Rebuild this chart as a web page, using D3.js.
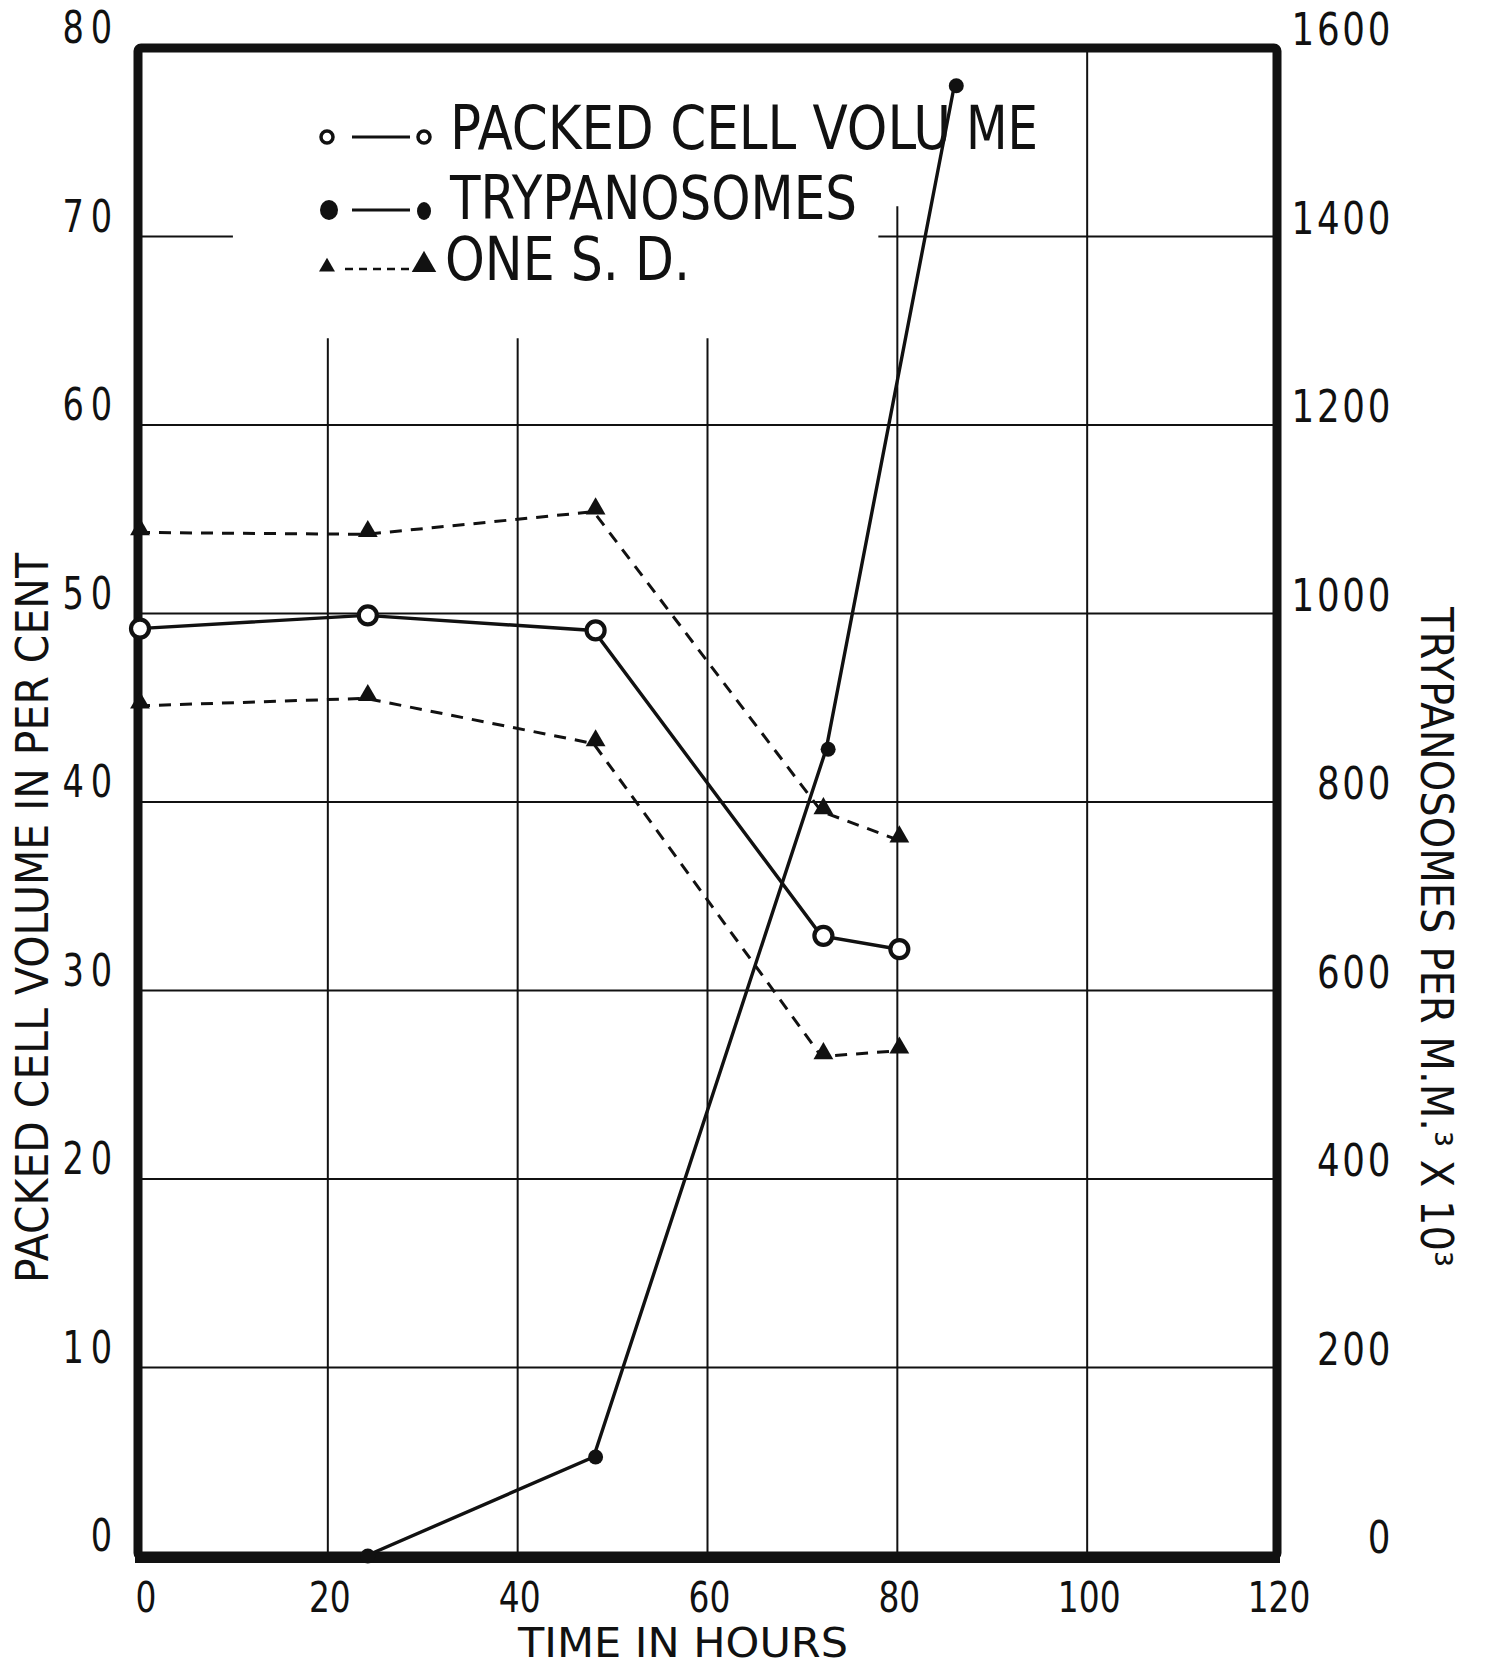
<!DOCTYPE html>
<html>
<head>
<meta charset="utf-8">
<script src="https://cdn.jsdelivr.net/npm/d3@7"></script>
<style>
  body { margin: 0; background: #fff; }
  text { font-family: "DejaVu Sans Condensed", "DejaVu Sans", sans-serif; fill: #111; }
</style>
</head>
<body>
<div id="chart"></div>
<script>
// ---------------- data ----------------
const hours = [0, 24, 48, 72, 80];
const packedCellVolume = [49.2, 49.9, 49.1, 32.9, 32.2];
const sdUpper = [54.3, 54.2, 55.4, 39.5, 38.0];
const sdLower = [45.1, 45.5, 43.1, 26.5, 26.8];

const trypHours = [24, 48, 72.5, 86];
const trypanosomes = [0, 105, 856, 1560];

const xTicks = [0, 20, 40, 60, 80, 100, 120];
const leftTicks = [0, 10, 20, 30, 40, 50, 60, 70, 80];
const rightTicks = [0, 200, 400, 600, 800, 1000, 1200, 1400, 1600];

// grid as drawn on the sheet (some lines are cut short by the legend)
const hGridFull = [10, 20, 30, 40, 50, 60];
const hGrid70 = [[0, 10], [78, 120]];
const vGridValues = [20, 40, 60, 80, 100];
const vGridTop = [64.6, 64.6, 64.6, 71.6, 80];

// ---------------- svg ----------------
const W = 1486, H = 1669;
const svg = d3.select("#chart").append("svg")
  .attr("width", W).attr("height", H)
  .style("background", "#fff");

const x = d3.scaleLinear().domain([0, 120]).range([138, 1277]);
const yL = d3.scaleLinear().domain([0, 80]).range([1556, 48]);
const yR = d3.scaleLinear().domain([0, 1600]).range([1556, 48]);

const ink = "#111";

// grid
const grid = svg.append("g").attr("stroke", ink).attr("stroke-width", 2);
grid.selectAll(".hg").data(hGridFull).join("line")
  .attr("x1", x(0)).attr("x2", x(120))
  .attr("y1", d => yL(d)).attr("y2", d => yL(d));
grid.selectAll(".h70").data(hGrid70).join("line")
  .attr("x1", d => x(d[0])).attr("x2", d => x(d[1]))
  .attr("y1", yL(70)).attr("y2", yL(70));
grid.selectAll(".vg").data(vGridValues).join("line")
  .attr("x1", d => x(d)).attr("x2", d => x(d))
  .attr("y1", (d, i) => yL(vGridTop[i])).attr("y2", yL(0));

// frame
svg.append("rect")
  .attr("x", x(0)).attr("y", yL(80))
  .attr("width", x(120) - x(0)).attr("height", yL(0) - yL(80))
  .attr("rx", 3)
  .attr("fill", "none").attr("stroke", ink).attr("stroke-width", 9);
svg.append("line")
  .attr("x1", x(0) - 3).attr("x2", x(120) + 3).attr("y1", yL(0) + 3).attr("y2", yL(0) + 3)
  .attr("stroke", ink).attr("stroke-width", 8);

// tick labels
svg.append("g").selectAll("text").data(leftTicks).join("text")
  .attr("transform", d => `translate(${112 + 7},${yL(d) - 5}) scale(0.85,1)`)
  .attr("text-anchor", "end").attr("font-size", 44)
  .attr("letter-spacing", 8)
  .text(d => d);

svg.append("g").selectAll("text").data(rightTicks).join("text")
  .attr("transform", d => `translate(${1390 + 3},${yR(d) - 3}) scale(0.9,1)`)
  .attr("text-anchor", "end").attr("font-size", 44)
  .attr("letter-spacing", 3)
  .text(d => d);

svg.append("g").selectAll("text").data(xTicks).join("text")
  .attr("transform", d => `translate(${x(d) + (d === 0 ? 8 : 2)},1612) scale(0.85,1)`)
  .attr("text-anchor", "middle").attr("font-size", 43)
  .text(d => d);

// axis titles
svg.append("text")
  .attr("transform", "translate(48,918) rotate(-90)")
  .attr("text-anchor", "middle").attr("font-size", 44)
  .attr("textLength", 730).attr("lengthAdjust", "spacingAndGlyphs")
  .text("PACKED CELL VOLUME IN PER CENT");

svg.append("text")
  .attr("transform", "translate(1421,937) rotate(90)")
  .attr("text-anchor", "middle").attr("font-size", 44)
  .attr("textLength", 660).attr("lengthAdjust", "spacingAndGlyphs")
  .text("TRYPANOSOMES   PER M.M.\u00b3 X 10\u00b3");

svg.append("text")
  .attr("x", 683).attr("y", 1657)
  .attr("text-anchor", "middle").attr("font-size", 40)
  .attr("textLength", 330).attr("lengthAdjust", "spacingAndGlyphs")
  .text("TIME  IN HOURS");

// ---------------- series ----------------
const pcv = hours.map((h, i) => [h, packedCellVolume[i]]);
const up = hours.map((h, i) => [h, sdUpper[i]]);
const lo = hours.map((h, i) => [h, sdLower[i]]);
const tryp = trypHours.map((h, i) => [h, trypanosomes[i]]);

const lineL = d3.line().x(d => x(d[0])).y(d => yL(d[1]));
const lineR = d3.line().x(d => x(d[0])).y(d => yR(d[1]));

[up, lo].forEach(s => {
  svg.append("path").attr("d", lineL(s))
    .attr("fill", "none").attr("stroke", ink)
    .attr("stroke-width", 3).attr("stroke-dasharray", "12 9");
});
svg.append("path").attr("d", lineL(pcv))
  .attr("fill", "none").attr("stroke", ink).attr("stroke-width", 3.4);
svg.append("path").attr("d", lineR(tryp))
  .attr("fill", "none").attr("stroke", ink).attr("stroke-width", 3.4);

const tri = d3.symbol().type(d3.symbolTriangle).size(170);
svg.append("g").selectAll("path").data(up.concat(lo)).join("path")
  .attr("d", tri)
  .attr("transform", d => `translate(${x(d[0]) + 2},${yL(d[1]) - 3})`)
  .attr("fill", ink);

svg.append("g").selectAll("circle").data(pcv).join("circle")
  .attr("cx", d => x(d[0]) + 2).attr("cy", d => yL(d[1]))
  .attr("r", 9).attr("fill", "#fff").attr("stroke", ink).attr("stroke-width", 4.2);

svg.append("g").selectAll("circle").data(tryp).join("circle")
  .attr("cx", d => x(d[0]) + 2).attr("cy", d => yR(d[1]))
  .attr("r", 7.5).attr("fill", ink);

// ---------------- legend ----------------
const lg = svg.append("g");
const rows = [
  {label: "PACKED CELL VOLU", tail: "ME", y: 137, base: 149, w: 501, kind: "open"},
  {label: "TRYPANOSOMES", y: 210, base: 219, w: 407, kind: "filled"},
  {label: "ONE S. D.", y: 269, base: 280, w: 245, kind: "tri"}
];
rows.forEach(r => {
  lg.append("line")
    .attr("x1", r.kind === "tri" ? 345 : 352).attr("x2", 410)
    .attr("y1", r.y).attr("y2", r.y)
    .attr("stroke", ink).attr("stroke-width", r.kind === "tri" ? 2.5 : 3)
    .attr("stroke-dasharray", r.kind === "tri" ? "8 6" : null);
  if (r.kind === "open") {
    [327, 424].forEach(cx => lg.append("circle").attr("cx", cx).attr("cy", r.y)
      .attr("r", 6).attr("fill", "#fff").attr("stroke", ink).attr("stroke-width", 3.5));
  } else if (r.kind === "filled") {
    lg.append("ellipse").attr("cx", 329).attr("cy", r.y).attr("rx", 9).attr("ry", 10).attr("fill", ink);
    lg.append("ellipse").attr("cx", 424).attr("cy", r.y + 1).attr("rx", 7).attr("ry", 9).attr("fill", ink);
  } else {
    lg.append("path").attr("d", d3.symbol().type(d3.symbolTriangle).size(110))
      .attr("transform", `translate(327,${r.y - 2})`).attr("fill", ink);
    lg.append("path").attr("d", d3.symbol().type(d3.symbolTriangle).size(260))
      .attr("transform", `translate(424,${r.y - 4})`).attr("fill", ink);
  }
  const t = lg.append("text")
    .attr("x", r.kind === "tri" ? 445 : 450).attr("y", r.base)
    .attr("font-size", 61);
  t.append("tspan")
    .attr("textLength", r.w).attr("lengthAdjust", "spacingAndGlyphs")
    .text(r.label);
  if (r.tail) {
    t.append("tspan").attr("x", 966)
      .attr("textLength", 72).attr("lengthAdjust", "spacingAndGlyphs")
      .text(r.tail);
  }
});
</script>
</body>
</html>
